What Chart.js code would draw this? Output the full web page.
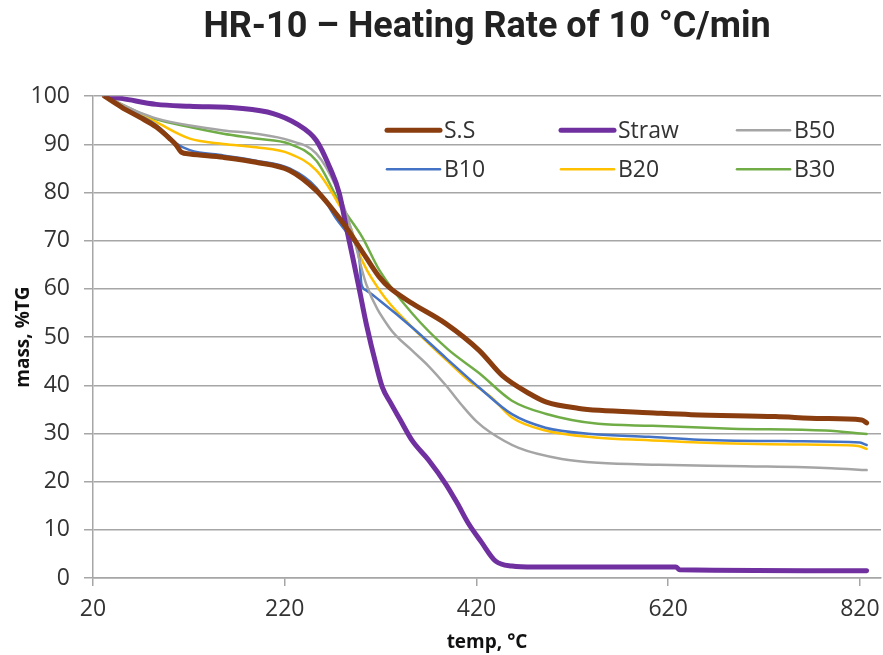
<!DOCTYPE html>
<html>
<head>
<meta charset="utf-8">
<script src="https://cdn.jsdelivr.net/npm/chart.js@4.4.1/dist/chart.umd.min.js"></script>
<style>
  html, body { margin: 0; padding: 0; background: #fff; }
  #wrap { width: 883px; height: 655px; }
</style>
</head>
<body>
<div id="wrap"><canvas id="tg" width="883" height="655"></canvas></div>
<script>
// tick labels
const tempTicks = [20, 220, 420, 620, 820];
const massTicks = [0, 10, 20, 30, 40, 50, 60, 70, 80, 90, 100];

// S.S
const ssTemp = [32, 50, 69, 86, 100, 107, 112, 121, 156, 190, 225, 253, 268, 284, 305, 319, 329, 353, 388, 423, 447, 475, 493, 527, 548, 600, 644, 732, 780, 822, 827];
const ssMass = [100, 97.7, 95.6, 93.6, 91.2, 89.8, 88.4, 88, 87.3, 86.3, 84.6, 80.4, 77, 72.8, 66.5, 62.4, 60.3, 57, 52.8, 47.2, 42, 38.3, 36.5, 35.2, 34.8, 34.3, 33.9, 33.5, 33.1, 32.8, 32.2];

// Straw
const strawTemp = [34, 51, 86, 121, 173, 208, 232, 253, 267, 277, 284, 291, 298, 305, 316, 322, 330, 340, 353, 370, 388, 400, 412, 425, 440, 457, 480, 540, 628, 632, 827];
const strawMass = [100, 99.5, 98.3, 97.9, 97.5, 96.4, 94.3, 90.8, 85.2, 79.8, 73, 66.5, 59.7, 52.8, 43.7, 39.5, 36.5, 33, 28.5, 24.5, 19.5, 15.5, 11.2, 7.5, 3.5, 2.5, 2.3, 2.3, 2.3, 1.7, 1.5];

// B50
const b50Temp = [33, 50, 69, 86, 121, 156, 190, 225, 253, 274, 290, 305, 329, 353, 370, 388, 405, 420, 434, 464, 509, 547, 610, 700, 790, 827];
const b50Mass = [100, 98.3, 96.6, 95.4, 93.9, 92.9, 92.2, 90.8, 88.1, 81, 72, 61, 52, 47.2, 44, 40, 35.8, 32.5, 30.3, 27, 24.7, 23.9, 23.5, 23.2, 22.8, 22.4];

// B10
const b10Temp = [33, 50, 69, 86, 100, 107, 121, 156, 190, 225, 253, 274, 287, 298, 300, 305, 319, 353, 388, 423, 457, 492, 540, 600, 652, 750, 820, 827];
const b10Mass = [100, 98, 96, 94, 91.5, 90.2, 88.8, 87.7, 86.6, 85, 81, 74.5, 71, 65.9, 61, 59.7, 57.6, 52, 45.7, 39.5, 34, 31.2, 29.9, 29.3, 28.7, 28.4, 28.1, 27.6];

// B20
const b20Temp = [33, 50, 69, 86, 121, 156, 190, 225, 253, 274, 290, 295, 319, 353, 390, 412, 436, 457, 492, 547, 600, 652, 750, 818, 827];
const b20Mass = [100, 98.2, 96.3, 94.6, 91.2, 90.1, 89.4, 88.1, 84.6, 78.4, 72.1, 68.6, 59.7, 52, 45, 41, 37.4, 33.3, 30.6, 29.1, 28.6, 28.1, 27.7, 27.4, 26.8];

// B30
const b30Temp = [33, 50, 69, 86, 121, 156, 190, 225, 253, 280, 301, 319, 353, 390, 423, 457, 492, 547, 603, 686, 784, 827];
const b30Mass = [100, 98.3, 96.5, 95.2, 93.6, 92.2, 91.2, 90.1, 86.6, 76.9, 70.7, 63.8, 54.9, 47.5, 42.5, 36.8, 34.1, 32, 31.6, 31, 30.6, 29.9];

const seriesNames = ["S.S", "Straw", "B50", "B10", "B20", "B30"];
const seriesColors = ["#8A3D0F", "#7030A0", "#A5A5A5", "#4472C4", "#FFC000", "#70AD47"];
const seriesWidths = [5, 5, 2.5, 2.5, 2.5, 2.5];

const temps = [ssTemp, strawTemp, b50Temp, b10Temp, b20Temp, b30Temp];
const masses = [ssMass, strawMass, b50Mass, b10Mass, b20Mass, b30Mass];

const gridGray = "#a6a6a6";
const textFont = "'Open Sans', sans-serif";

function zip(xs, ys) {
  return xs.map((x, i) => ({ x: x, y: ys[i] }));
}

const datasets = seriesNames.map((name, i) => ({
  label: name,
  data: zip(temps[i], masses[i]),
  borderColor: seriesColors[i],
  backgroundColor: seriesColors[i],
  borderWidth: seriesWidths[i],
  pointRadius: 0,
  fill: false,
  cubicInterpolationMode: "monotone",
  borderCapStyle: "round",
  borderJoinStyle: "round"
}));

// legend drawn inside the plot, 3 columns x 2 rows like the excel one
const insideLegend = {
  id: "insideLegend",
  afterDraw(chart) {
    const ctx = chart.ctx;
    const area = chart.chartArea;
    const colX = [294, 468, 644];
    const rowY = [34, 73];
    ctx.save();
    ctx.font = "23px " + textFont;
    ctx.textBaseline = "middle";
    ctx.fillStyle = "#333";
    chart.data.datasets.forEach((ds, i) => {
      const x = area.left + colX[i % 3];
      const y = area.top + rowY[Math.floor(i / 3)];
      ctx.beginPath();
      ctx.strokeStyle = ds.borderColor;
      ctx.lineWidth = ds.borderWidth;
      ctx.lineCap = "round";
      ctx.moveTo(x, y);
      ctx.lineTo(x + 53, y);
      ctx.stroke();
      ctx.fillText(ds.label, x + 57, y + 1);
    });
    ctx.restore();
  }
};

new Chart(document.getElementById("tg"), {
  type: "line",
  data: { datasets: datasets },
  options: {
    responsive: false,
    animation: false,
    layout: { padding: { left: 0, right: 2, top: 0, bottom: 0 } },
    plugins: {
      legend: { display: false },
      tooltip: { enabled: false },
      title: {
        display: true,
        text: "HR-10 \u2013 Heating Rate of 10 \u00B0C/min",
        fullSize: false,
        color: "#222",
        font: { family: "Roboto", size: 36, weight: "bold" },
        padding: { top: 6, bottom: 47 }
      }
    },
    scales: {
      x: {
        type: "linear",
        min: 20,
        max: 842,
        afterBuildTicks: (scale) => { scale.ticks = tempTicks.map(v => ({ value: v })); },
        afterFit: (scale) => {
          scale.height = 77;
          scale.paddingLeft = 0;
          scale.paddingRight = 0;
        },
        grid: { drawOnChartArea: false, drawTicks: true, tickLength: 8, color: gridGray, lineWidth: 1.5 },
        border: { display: true, color: gridGray, width: 1.5 },
        ticks: { color: "#333", font: { family: textFont, size: 23 }, padding: 10, maxRotation: 0 },
        title: {
          display: true,
          text: "temp, \u00B0C",
          color: "#111",
          font: { family: textFont, size: 19, weight: "bold" },
          padding: { top: 0, bottom: 1 }
        }
      },
      y: {
        min: 0,
        max: 100,
        afterBuildTicks: (scale) => { scale.ticks = massTicks.map(v => ({ value: v })); },
        afterFit: (scale) => { scale.width = 93; },
        grid: { color: gridGray, lineWidth: 1.5, tickLength: 9 },
        border: { display: true, color: gridGray, width: 1.5 },
        ticks: { color: "#333", font: { family: textFont, size: 23 }, padding: 14 },
        title: {
          display: true,
          text: "mass, %TG",
          color: "#111",
          font: { family: textFont, size: 19, weight: "bold" },
          padding: { top: 12, bottom: 0 }
        }
      }
    }
  },
  plugins: [insideLegend]
});
</script>
</body>
</html>
